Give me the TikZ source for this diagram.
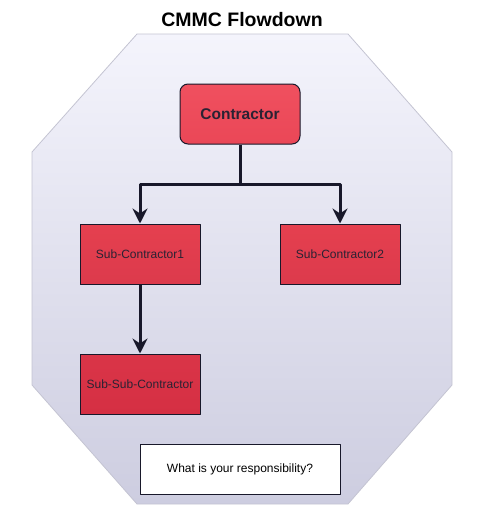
\documentclass[tikz,border=0pt]{standalone}
\usepackage{fontspec}
\setmainfont{Liberation Sans}
\usetikzlibrary{arrows.meta}
\definecolor{octtop}{HTML}{F4F4FC}
\definecolor{octbot}{HTML}{CDCDE0}
\definecolor{octline}{HTML}{C4C4D2}
\definecolor{edge}{HTML}{18182A}
\definecolor{txt}{HTML}{2A2233}
\definecolor{contop}{HTML}{F0505F}
\definecolor{conbot}{HTML}{EA4757}
\definecolor{redtop}{HTML}{E5404F}
\definecolor{redbot}{HTML}{DC3A4C}
\definecolor{deeptop}{HTML}{DA3548}
\definecolor{deepbot}{HTML}{D52F43}
\begin{document}
\begin{tikzpicture}[x=1pt,y=-1pt,>={Stealth[length=15pt,width=15pt,inset=5pt]}, line join=round,
	redbox/.style={draw=edge, line width=1pt, top color=redtop, bottom color=redbot, minimum width=120pt, minimum height=60pt, inner sep=0pt, text=txt, font=\fontsize{12}{14}\selectfont},
	link/.style={->, line width=3pt, draw=edge}]
	\useasboundingbox (0,0) rectangle (477,523);
	% octagon background
	\shade[top color=octtop, bottom color=octbot, draw=octline, line width=0.8pt]
	(137,34)--(348,34)--(452,152)--(452,385)--(348,504)--(137,504)--(32,385)--(32,152)--cycle;
	\node[font=\bfseries\fontsize{19.5}{22}\selectfont] (title) at (242,20) {CMMC Flowdown};
	\path
	(240,114) node[redbox, rounded corners=8pt, top color=contop, bottom color=conbot, font=\bfseries\fontsize{15.5}{18}\selectfont] (con) {Contractor}
	(140,254) node[redbox] (sub1) {Sub-Contractor1}
	(340,254) node[redbox] (sub2) {Sub-Contractor2}
	(140,384) node[redbox, top color=deeptop, bottom color=deepbot] (subsub) {Sub-Sub-Contractor}
	(240,469) node[draw=edge, line width=1pt, fill=white, minimum width=200pt, minimum height=50pt, inner sep=0pt, font=\fontsize{12}{14}\selectfont] (ask) {What is your responsibility?}
	(240,184) coordinate (split)
	;
	\draw[link] (con.south) -- (split) -| (sub1.north);
	\draw[link] (split) -| (sub2.north);
	\draw[link] (sub1.south) -- (subsub.north);
\end{tikzpicture}
\end{document}
